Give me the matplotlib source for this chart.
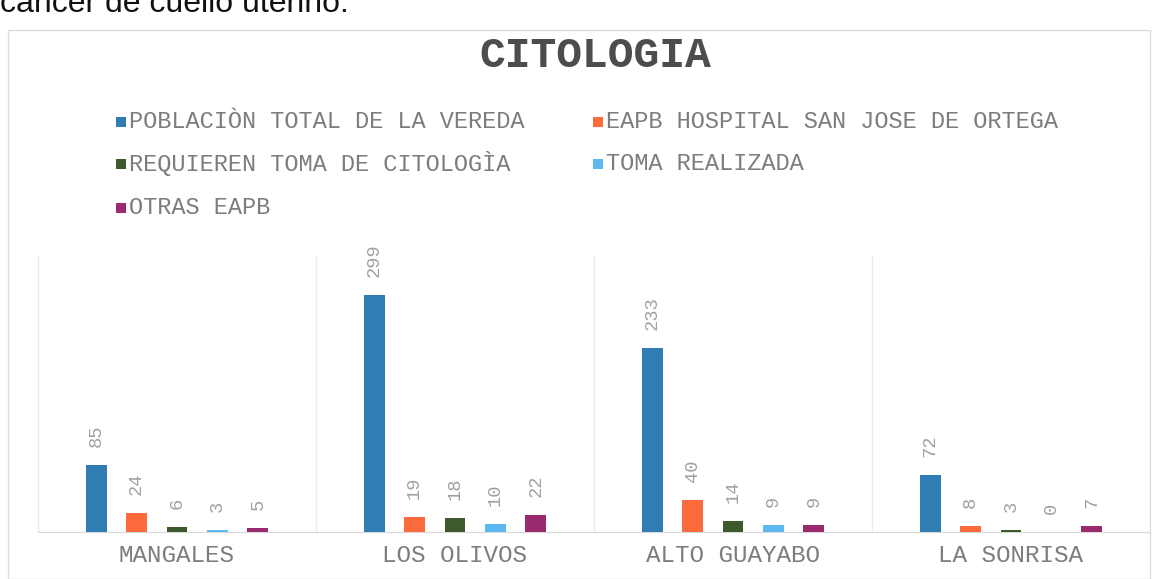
import matplotlib
matplotlib.use("Agg")
import matplotlib.pyplot as plt
import numpy as np
from matplotlib.patches import Rectangle

categories = ["MANGALES", "LOS OLIVOS", "ALTO GUAYABO", "LA SONRISA"]
series_names = ["POBLACIÒN TOTAL DE LA VEREDA", "EAPB HOSPITAL SAN JOSE DE ORTEGA",
                "REQUIEREN TOMA DE CITOLOGÌA", "TOMA REALIZADA", "OTRAS EAPB"]
poblacion = [85, 299, 233, 72]
eapb_hospital = [24, 19, 40, 8]
requieren = [6, 18, 14, 3]
toma_realizada = [3, 10, 9, 0]
otras_eapb = [5, 22, 9, 7]
series_values = [poblacion, eapb_hospital, requieren, toma_realizada, otras_eapb]
colors = ["#2f7db3", "#fb6b3b", "#3d5a2c", "#5cb8ee", "#9b2b6f"]

W, H = 1164, 579
fig = plt.figure(figsize=(W / 100, H / 100), dpi=100)
fig.patch.set_facecolor("white")

mono = ["Liberation Mono", "DejaVu Sans Mono"]
txt_grey = "#7d7d7d"

# page text above the chart (cut by the page edge in the original scan)
fig.text(0.0 / W, 1 - 12 / H, "cáncer de cuello uterino.", fontsize=23,
         family=["Liberation Sans", "DejaVu Sans"], color="#111111", va="baseline", ha="left")

# outer chart frame
fig.add_artist(Rectangle((8 / W, 0), (1150 - 8) / W, 1 - 30 / H, transform=fig.transFigure,
                         fill=False, edgecolor="#dcdcdc", lw=1.0))

# title
fig.text(595 / W, 1 - 56 / H, "CITOLOGIA", fontsize=31, fontweight="bold", family=mono,
         color="#4d4d4d", ha="center", va="center")

# legend (row-major like the original)
leg_pos = [(116, 122), (593, 122), (116, 164), (593, 164), (116, 208)]
for (px, py), name, c in zip(leg_pos, series_names, colors):
    fig.add_artist(Rectangle(((px) / W, 1 - (py + 5) / H), 10 / W, 10 / H,
                             transform=fig.transFigure, facecolor=c, edgecolor="none"))
    fig.text((px + 13) / W, 1 - py / H, name, fontsize=17, family=mono, color=txt_grey,
             ha="left", va="center")

# axes
ax = fig.add_axes([38 / W, 1 - 532 / H, (1150 - 38) / W, (532 - 255) / H])
ax.set_xlim(-0.5, len(categories) - 0.5)
ax.set_ylim(0, 350)
x = np.arange(len(categories))
n = len(series_values)
step = 0.1455
bw = 0.075
for k, (vals, c) in enumerate(zip(series_values, colors)):
    pos = x + (k - (n - 1) / 2) * step
    ax.bar(pos, vals, width=bw, color=c, zorder=3)
    for xp, v in zip(pos, vals):
        ax.annotate(str(v), (xp, v), xytext=(0, 13), textcoords="offset points",
                    rotation=90, ha="center", va="bottom", fontsize=13.5, family=mono,
                    color="#a0a0a0")

for b in np.arange(-0.5, len(categories), 1.0):
    ax.axvline(b, color="#ececec", lw=1.0, zorder=1)

for s in ["top", "right", "left"]:
    ax.spines[s].set_visible(False)
ax.spines["bottom"].set_color("#d9d9d9")
ax.set_yticks([])
ax.set_xticks(x)
ax.set_xticklabels(categories, family=mono, fontsize=17.5, color=txt_grey)
ax.tick_params(axis="x", length=0, pad=9)
ax.set_facecolor("none")

fig.savefig("out.png", dpi=100, facecolor="white")
